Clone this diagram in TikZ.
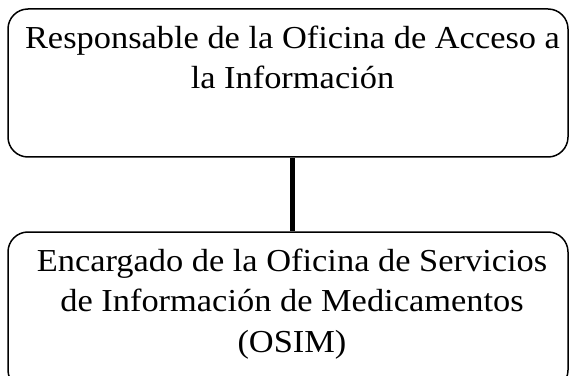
\documentclass[tikz,border=0pt]{standalone}
\usepackage{fontspec}
\setmainfont[FakeStretch=1.075]{Liberation Serif}
\begin{document}
\begin{tikzpicture}[x=1pt,y=1pt,
  box/.style={draw=black,line width=1.5pt,rounded corners=20pt,minimum width=560pt,inner sep=0pt},
  label/.style={align=center,font=\fontsize{32}{40.5}\selectfont,inner sep=0pt},
  conn/.style={line width=5pt}]
\useasboundingbox (0,0) rectangle (569,375);
\clip (0,0) rectangle (569,375);
\node[box,minimum height=148pt] (top) at (288,292) {};
\node[box,minimum height=158pt] (bot) at (288,64) {};
\node[label,anchor=base] (toptext) at (292.5,286) {Responsable de la Oficina de Acceso a\\la Información};
\node[label,anchor=base] (bottext) at (292,23) {Encargado de la Oficina de Servicios\\de Información de Medicamentos\\(OSIM)};
\coordinate (c) at (292.5,0);
\draw[conn] (top.south -| c) -- (bot.north -| c);
\end{tikzpicture}
\end{document}
